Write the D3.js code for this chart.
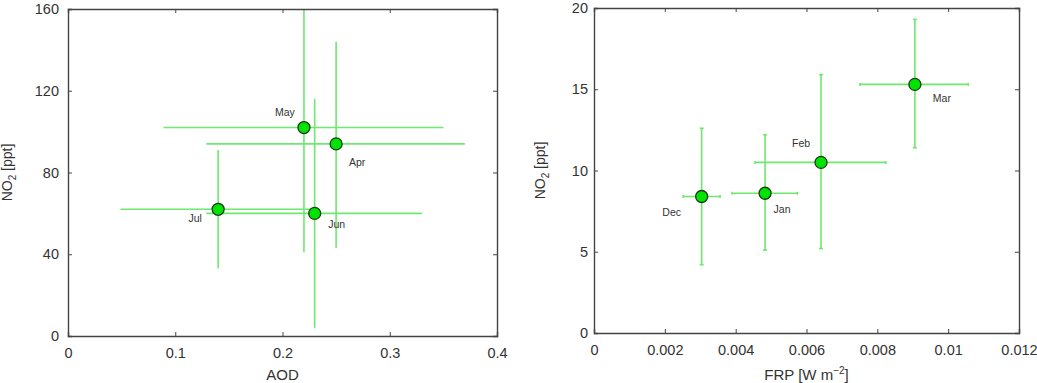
<!DOCTYPE html>
<html>
<head>
<meta charset="utf-8">
<script src="https://cdn.jsdelivr.net/npm/d3@7"></script>
<style>
  body { margin: 0; background: #fff; }
  svg { display: block; font-family: "Liberation Sans", Arial, sans-serif; }
</style>
</head>
<body>
<script>
// left panel: AOD vs NO2
const aodMonths = ["May", "Apr", "Jun", "Jul"];
const aodValues = [0.22, 0.25, 0.23, 0.14];
const aodLow = [0.089, 0.129, 0.129, 0.049];
const aodHigh = [0.35, 0.37, 0.33, 0.227];
const aodNo2 = [102, 94, 60, 62];
const aodNo2Low = [41, 43, 4, 33];
const aodNo2High = [160, 144, 116, 91];
const aodTicks = [0, 0.1, 0.2, 0.3, 0.4];
const aodNo2Ticks = [0, 40, 80, 120, 160];

// right panel: FRP vs NO2
const frpMonths = ["Dec", "Jan", "Feb", "Mar"];
const frpValues = [0.00304, 0.00483, 0.00641, 0.00906];
const frpLow = [0.00252, 0.0039, 0.00455, 0.00751];
const frpHigh = [0.00356, 0.00574, 0.00824, 0.01057];
const frpNo2 = [8.4, 8.6, 10.5, 15.3];
const frpNo2Low = [4.2, 5.1, 5.2, 11.4];
const frpNo2High = [12.6, 12.2, 15.9, 19.3];
const frpTicks = [0, 0.002, 0.004, 0.006, 0.008, 0.01, 0.012];
const frpNo2Ticks = [0, 5, 10, 15, 20];

const svg = d3.select("body").append("svg")
  .attr("width", 1037)
  .attr("height", 383);

const barColor = "#6ee86e";
const textColor = "#333";

function panel(opt) {
  const g = svg.append("g");
  const x = d3.scaleLinear().domain(opt.xDomain).range([opt.left, opt.right]);
  const y = d3.scaleLinear().domain(opt.yDomain).range([opt.bottom, opt.top]);

  // error bars
  const bars = g.append("g").attr("stroke", barColor).attr("stroke-width", 1.6);
  opt.labels.forEach((m, i) => {
    bars.append("line")
      .attr("x1", x(opt.xLow[i])).attr("x2", x(opt.xHigh[i]))
      .attr("y1", y(opt.yVal[i])).attr("y2", y(opt.yVal[i]));
    bars.append("line")
      .attr("x1", x(opt.xVal[i])).attr("x2", x(opt.xVal[i]))
      .attr("y1", y(opt.yLow[i])).attr("y2", y(opt.yHigh[i]));
    if (opt.caps) {
      [opt.yLow[i], opt.yHigh[i]].forEach(v => {
        bars.append("line")
          .attr("x1", x(opt.xVal[i]) - 2).attr("x2", x(opt.xVal[i]) + 2)
          .attr("y1", y(v)).attr("y2", y(v));
      });
      [opt.xLow[i], opt.xHigh[i]].forEach(v => {
        bars.append("line")
          .attr("x1", x(v)).attr("x2", x(v))
          .attr("y1", y(opt.yVal[i]) - 1.5).attr("y2", y(opt.yVal[i]) + 1.5);
      });
    }
  });

  // markers
  g.append("g").selectAll("circle")
    .data(opt.labels)
    .join("circle")
    .attr("cx", (d, i) => x(opt.xVal[i]))
    .attr("cy", (d, i) => y(opt.yVal[i]))
    .attr("r", 6)
    .attr("fill", "#00e400")
    .attr("stroke", "#1c3a1c")
    .attr("stroke-width", 1.3);

  // month labels
  g.append("g").selectAll("text")
    .data(opt.labels)
    .join("text")
    .attr("x", (d, i) => x(opt.xVal[i]) + opt.labelOffsets[i][0])
    .attr("y", (d, i) => y(opt.yVal[i]) + opt.labelOffsets[i][1])
    .attr("text-anchor", "middle")
    .attr("dy", "0.35em")
    .attr("font-size", 10.5)
    .attr("fill", textColor)
    .text(d => d);

  // axes, ticks inward on all four sides
  const tickLen = 4;
  const ax = g.append("g").attr("fill", "none");
  ax.append("g").attr("transform", `translate(0,${opt.bottom})`)
    .call(d3.axisBottom(x).tickValues(opt.xTicks).tickSize(-tickLen).tickPadding(12)
      .tickFormat(d => String(d)));
  ax.append("g").attr("transform", `translate(0,${opt.top})`)
    .call(d3.axisTop(x).tickValues(opt.xTicks).tickSize(-tickLen).tickFormat(""));
  ax.append("g").attr("transform", `translate(${opt.left},0)`)
    .call(d3.axisLeft(y).tickValues(opt.yTicks).tickSize(-tickLen).tickPadding(opt.yPad));
  ax.append("g").attr("transform", `translate(${opt.right},0)`)
    .call(d3.axisRight(y).tickValues(opt.yTicks).tickSize(-tickLen).tickFormat(""));
  ax.selectAll(".domain").attr("stroke", "#444").attr("stroke-width", 1.4);
  ax.selectAll(".tick line").attr("stroke", "#444").attr("stroke-width", 1);
  ax.selectAll(".tick text")
    .attr("font-size", 14.5).attr("fill", textColor)
    .attr("font-family", "'Liberation Sans', Arial, sans-serif");

  // x title
  const xt = g.append("text")
    .attr("x", (opt.left + opt.right) / 2)
    .attr("y", 380)
    .attr("text-anchor", "middle")
    .attr("font-size", 15)
    .attr("fill", textColor);
  opt.xTitle(xt);

  // y title
  const yt = g.append("text")
    .attr("transform", `translate(${opt.yTitleX},${(opt.top + opt.bottom) / 2}) rotate(-90)`)
    .attr("text-anchor", "middle")
    .attr("font-size", 14)
    .attr("fill", textColor);
  yt.append("tspan").text("NO");
  yt.append("tspan").attr("font-size", 10).attr("dy", 4).text("2");
  yt.append("tspan").attr("dy", -4).text(" [ppt]");
}

panel({
  left: 68, right: 497, top: 9, bottom: 336,
  xDomain: [0, 0.4], yDomain: [0, 160],
  xTicks: aodTicks, yTicks: aodNo2Ticks, yPad: 9,
  labels: aodMonths, xVal: aodValues, xLow: aodLow, xHigh: aodHigh,
  yVal: aodNo2, yLow: aodNo2Low, yHigh: aodNo2High,
  labelOffsets: [[-19, -15], [21, 18], [22, 11], [-23, 9]],
  caps: false,
  yTitleX: 12,
  xTitle: t => t.text("AOD")
});

panel({
  left: 594, right: 1019, top: 8, bottom: 333,
  xDomain: [0, 0.012], yDomain: [0, 20],
  xTicks: frpTicks, yTicks: frpNo2Ticks, yPad: 6,
  labels: frpMonths, xVal: frpValues, xLow: frpLow, xHigh: frpHigh,
  yVal: frpNo2, yLow: frpNo2Low, yHigh: frpNo2High,
  labelOffsets: [[-30, 16], [17, 16], [-20, -19], [27, 14]],
  caps: true,
  yTitleX: 545,
  xTitle: t => {
    t.append("tspan").text("FRP [W m");
    t.append("tspan").attr("font-size", 10).attr("dy", -6).text("−2");
    t.append("tspan").attr("dy", 6).text("]");
  }
});
</script>
</body>
</html>
